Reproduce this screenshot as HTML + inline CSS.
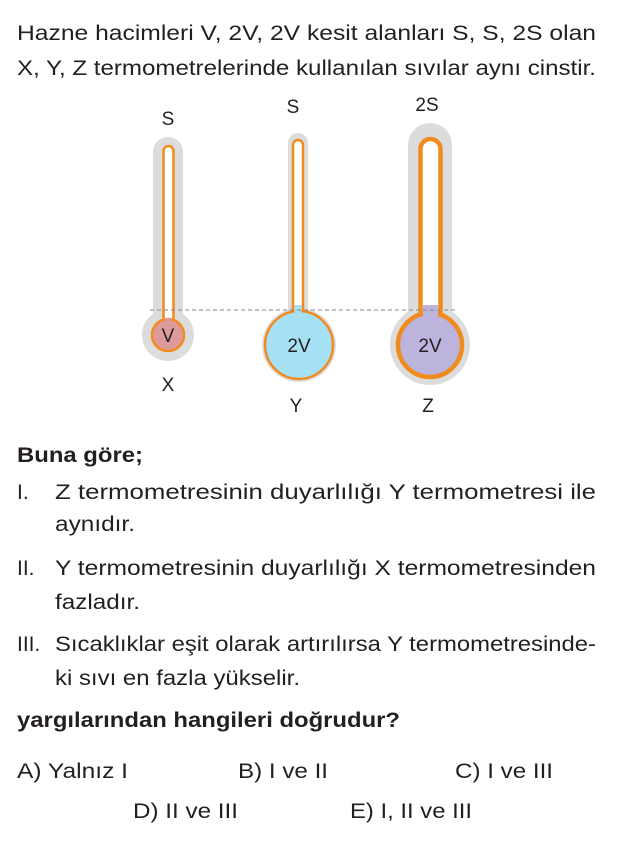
<!DOCTYPE html>
<html><head><meta charset="utf-8"><style>
html,body{margin:0;padding:0;background:#fff;}
svg{display:block;}
text{font-family:"Liberation Sans",Arial,sans-serif;fill:#231f20;font-size:21px;}
.b{font-weight:bold;}
.s{font-size:19px;}
</style></head><body>
<svg width="624" height="849" viewBox="0 0 624 849" xmlns="http://www.w3.org/2000/svg">
<text x="17" y="40" textLength="579" lengthAdjust="spacingAndGlyphs">Hazne hacimleri V, 2V, 2V kesit alanları S, S, 2S olan</text>
<text x="17" y="75" textLength="579" lengthAdjust="spacingAndGlyphs">X, Y, Z termometrelerinde kullanılan sıvılar aynı cinstir.</text>

<!-- X -->
<rect x="153" y="137" width="30" height="190" rx="15" fill="#dcdcdc"/>
<circle cx="168" cy="335" r="26" fill="#dcdcdc"/>
<rect x="163.5" y="146" width="10" height="180" rx="5" fill="#fff" stroke="#f08c1e" stroke-width="2.5"/>
<circle cx="168" cy="335" r="16" fill="#dc9a9a" stroke="#f08c1e" stroke-width="2.5"/>
<rect x="165" y="318" width="7" height="8" fill="#dc9a9a"/>
<!-- Y -->
<rect x="288" y="133" width="20" height="190" rx="10" fill="#dcdcdc"/>
<circle cx="299" cy="345" r="37" fill="#dcdcdc"/>
<rect x="293" y="140" width="10" height="190" rx="5" fill="#fff" stroke="#f08c1e" stroke-width="2.5"/>
<circle cx="299" cy="345" r="34" fill="#a6e0f5" stroke="#f08c1e" stroke-width="2.5"/>
<rect x="294.5" y="305" width="7" height="10" fill="#a6e0f5"/>
<!-- Z -->
<rect x="408" y="123" width="44" height="210" rx="22" fill="#dcdcdc"/>
<circle cx="430" cy="345" r="40" fill="#dcdcdc"/>
<rect x="420.5" y="139" width="20" height="200" rx="10" fill="#fff" stroke="#f08c1e" stroke-width="4.5"/>
<circle cx="430" cy="345" r="32" fill="#bcb4dd" stroke="#f08c1e" stroke-width="4.5"/>
<rect x="423" y="305" width="15" height="12" fill="#bcb4dd"/>

<line x1="150" y1="310" x2="458" y2="310" stroke="#888" stroke-width="1" stroke-dasharray="4,3"/>

<text x="168" y="125" text-anchor="middle" class="s">S</text>
<text x="293" y="113" text-anchor="middle" class="s">S</text>
<text x="427" y="111" text-anchor="middle" class="s">2S</text>
<text x="168" y="342" text-anchor="middle" class="s">V</text>
<text x="299" y="352" text-anchor="middle" class="s">2V</text>
<text x="430" y="352" text-anchor="middle" class="s">2V</text>
<text x="168" y="391" text-anchor="middle" class="s">X</text>
<text x="296" y="412" text-anchor="middle" class="s">Y</text>
<text x="428" y="412" text-anchor="middle" class="s">Z</text>

<text x="17" y="462" class="b" textLength="126" lengthAdjust="spacingAndGlyphs">Buna göre;</text>
<text x="17" y="499">I.</text>
<text x="55" y="499" textLength="541" lengthAdjust="spacingAndGlyphs">Z termometresinin duyarlılığı Y termometresi ile</text>
<text x="55" y="531" textLength="80" lengthAdjust="spacingAndGlyphs">aynıdır.</text>
<text x="17" y="575">II.</text>
<text x="55" y="575" textLength="541" lengthAdjust="spacingAndGlyphs">Y termometresinin duyarlılığı X termometresinden</text>
<text x="55" y="609" textLength="85" lengthAdjust="spacingAndGlyphs">fazladır.</text>
<text x="17" y="651">III.</text>
<text x="55" y="651" textLength="541" lengthAdjust="spacingAndGlyphs">Sıcaklıklar eşit olarak artırılırsa Y termometresinde-</text>
<text x="55" y="685" textLength="245" lengthAdjust="spacingAndGlyphs">ki sıvı en fazla yükselir.</text>
<text x="17" y="727" class="b" textLength="383" lengthAdjust="spacingAndGlyphs">yargılarından hangileri doğrudur?</text>
<text x="17" y="778" textLength="111" lengthAdjust="spacingAndGlyphs">A) Yalnız I</text>
<text x="238" y="778" textLength="90" lengthAdjust="spacingAndGlyphs">B) I ve II</text>
<text x="455" y="778" textLength="98" lengthAdjust="spacingAndGlyphs">C) I ve III</text>
<text x="133" y="818" textLength="105" lengthAdjust="spacingAndGlyphs">D) II ve III</text>
<text x="350" y="818" textLength="122" lengthAdjust="spacingAndGlyphs">E) I, II ve III</text>
</svg>
</body></html>
